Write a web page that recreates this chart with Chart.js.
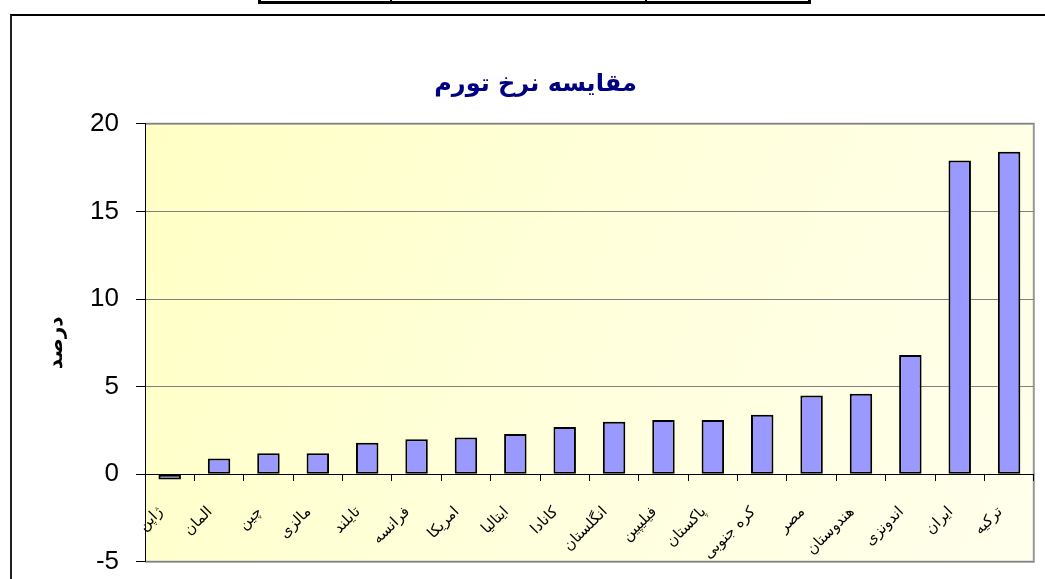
<!DOCTYPE html>
<html>
<head>
<meta charset="utf-8">
<script src="https://cdn.jsdelivr.net/npm/chart.js@4.4.1/dist/chart.umd.min.js"></script>
<style>
  html, body { margin: 0; padding: 0; background: #fff; overflow: hidden; }
  #wrap { position: relative; width: 1045px; height: 579px; }
  #frame { position: absolute; left: 10px; top: 14px; width: 1200px; height: 800px;
           border-top: 2px solid #000; border-left: 2px solid #222; }
  #tbl { position: absolute; left: 258px; top: -17px; width: 553px; height: 21px;
         box-sizing: border-box; border: 3px solid #000; }
  .div { position: absolute; top: 0; bottom: 0; width: 2px; background: #000; }
  canvas { position: absolute; left: 0; top: 0; }
</style>
</head>
<body>
<div id="wrap">
  <div id="frame"></div>
  <div id="tbl"><div class="div" style="left:129px"></div><div class="div" style="left:384px"></div></div>
  <canvas id="c" width="1045" height="579"></canvas>
</div>
<script>
const categories = ['ژاپن','المان','چین','مالزی','تایلند','فرانسه','امریکا','ایتالیا','کانادا','انگلستان','فیلیپین','پاکستان','کره جنوبی','مصر','هندوستان','اندونزی','ایران','ترکیه'];
const inflation = [-0.3, 0.9, 1.2, 1.2, 1.8, 2.0, 2.1, 2.3, 2.7, 3.0, 3.1, 3.1, 3.4, 4.5, 4.6, 6.8, 17.9, 18.4];
const yTicks = [-5, 0, 5, 10, 15, 20];
const chartTitle = 'مقایسه نرخ تورم';
const yTitle = 'درصد';

const plotBg = {
  id: 'plotBg',
  beforeDraw(chart) {
    const {ctx, chartArea: a} = chart;
    const g = ctx.createLinearGradient(a.left, a.top, a.right, a.bottom);
    g.addColorStop(0, '#FFFFC4');
    g.addColorStop(0.5, '#FFFFDC');
    g.addColorStop(1, '#FFFFEC');
    ctx.save();
    ctx.fillStyle = g;
    ctx.fillRect(a.left, a.top, a.right - a.left, a.bottom - a.top);
    ctx.strokeStyle = '#999';
    ctx.lineWidth = 2;
    ctx.beginPath();
    ctx.moveTo(a.left, a.top);
    ctx.lineTo(a.right, a.top);
    ctx.lineTo(a.right, a.bottom);
    ctx.lineTo(a.left, a.bottom);
    ctx.stroke();
    ctx.restore();
  }
};

new Chart(document.getElementById('c'), {
  type: 'bar',
  data: {
    labels: categories,
    datasets: [{
      data: inflation,
      backgroundColor: '#9999FF',
      borderColor: '#000',
      borderWidth: 2,
      borderSkipped: false,
      barPercentage: 1,
      categoryPercentage: 0.455
    }]
  },
  options: {
    responsive: false,
    animation: false,
    layout: { padding: { top: 0, left: 32, right: 6, bottom: 17 } },
    plugins: {
      legend: { display: false },
      tooltip: { enabled: false },
      title: {
        display: true,
        text: chartTitle,
        color: '#000080',
        font: { family: 'DejaVu Sans', size: 24, weight: 'bold' },
        padding: { top: 70, bottom: 25 }
      }
    },
    scales: {
      x: {
        position: { y: 0 },
        grid: { display: true, offset: true, drawOnChartArea: false, drawTicks: true, tickLength: 6, color: '#000', tickColor: '#000' },
        border: { display: true, color: '#000', width: 1 },
        ticks: {
          minRotation: 45, maxRotation: 45, autoSkip: false,
          padding: 23, labelOffset: -9,
          color: '#000',
          font: { family: 'DejaVu Sans', size: 15 }
        }
      },
      y: {
        min: -5, max: 20,
        afterBuildTicks(scale) { scale.ticks = yTicks.map(v => ({ value: v })); },
        afterFit(scale) { scale.width = 113; },
        grid: {
          color: ctx => (ctx.tick && ctx.tick.value === 0) ? '#000' : '#808080',
          tickColor: '#000', tickLength: 9, lineWidth: 1
        },
        border: { display: true, color: '#000', width: 1 },
        ticks: {
          padding: 17, color: '#000',
          font: { family: 'Liberation Sans', size: 26, lineHeight: 0.01 }
        },
        title: {
          display: true, text: yTitle, color: '#000',
          font: { family: 'DejaVu Sans', size: 20, weight: 'bold' },
          padding: { top: 13, bottom: 0 }
        }
      }
    }
  },
  plugins: [plotBg]
});
</script>
</body>
</html>
